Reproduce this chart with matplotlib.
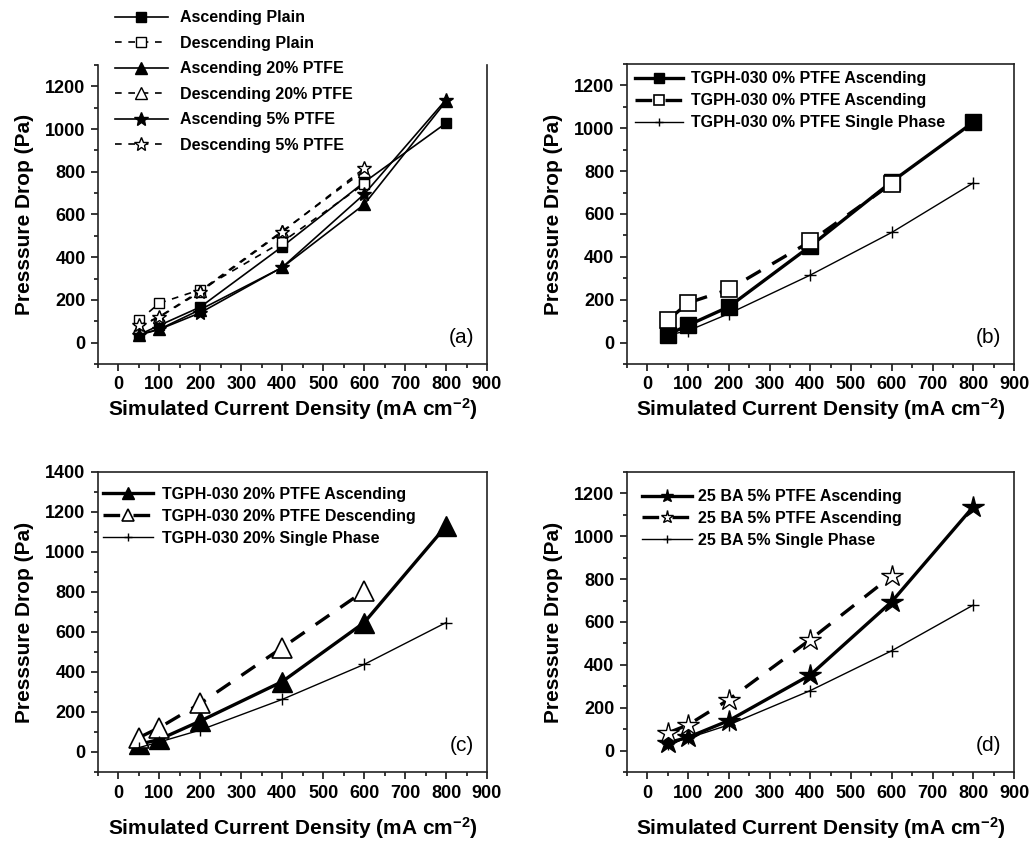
import matplotlib
matplotlib.use('Agg')
import matplotlib.pyplot as plt
from matplotlib.ticker import MultipleLocator

plt.rcParams['font.family'] = ['Liberation Sans', 'DejaVu Sans']
plt.rcParams['font.weight'] = 'bold'
plt.rcParams['mathtext.fontset'] = 'custom'
plt.rcParams['mathtext.rm'] = 'Liberation Sans:bold'
plt.rcParams['mathtext.it'] = 'Liberation Sans:bold'

# current density (mA cm-2)
x_all = [50, 100, 200, 400, 600, 800]
x_desc = [50, 100, 200, 400, 600]

# TGPH-030 0% PTFE (plain)
plain_asc = [37, 81, 167, 450, 751, 1028]
plain_desc = [104, 185, 248, 472, 742]
plain_single = [35, 55, 135, 315, 514, 745]

# TGPH-030 20% PTFE
ptfe20_asc = [38, 63, 155, 352, 647, 1130]
ptfe20_desc = [72, 122, 243, 522, 805]
ptfe20_single = [22, 50, 110, 263, 438, 647]

# 25 BA 5% PTFE
ptfe5_asc = [36, 62, 140, 353, 695, 1138]
ptfe5_desc = [82, 120, 238, 518, 816]
ptfe5_single = [31, 58, 120, 280, 466, 679]

XLABEL = 'Simulated Current Density (mA cm$^{\\mathrm{-2}}$)'
YLABEL = 'Presssure Drop (Pa)'

fig = plt.figure(figsize=(10.34, 8.43), dpi=100)
W, H = 1034, 843


def make_axes(l, t, r, b):
    return fig.add_axes([l / W, 1 - b / H, (r - l) / W, (b - t) / H])


def style(ax, ylim, ymajor, letter, labelpad_x):
    ax.set_xlim(-50, 900)
    ax.set_ylim(*ylim)
    ax.xaxis.set_major_locator(MultipleLocator(100))
    ax.xaxis.set_minor_locator(MultipleLocator(50))
    ax.yaxis.set_major_locator(MultipleLocator(ymajor))
    ax.yaxis.set_minor_locator(MultipleLocator(ymajor / 2))
    ax.tick_params(which='both', direction='out', top=False, right=False, width=1.1)
    ax.tick_params(which='major', length=5, labelsize=13, pad=4)
    ax.tick_params(which='minor', length=3)
    for lbl in ax.get_xticklabels() + ax.get_yticklabels():
        lbl.set_fontweight('bold')
    for s in ax.spines.values():
        s.set_linewidth(1.2)
        s.set_color('#222222')
    ax.set_xlabel(XLABEL, fontsize=15, fontweight='bold', labelpad=labelpad_x)
    ax.set_ylabel(YLABEL, fontsize=15, fontweight='bold', labelpad=8)
    ax.text(0.935, 0.087, letter, transform=ax.transAxes, fontsize=15,
            fontweight='normal', ha='center', va='center')


leg_font = {'size': 11.5, 'weight': 'bold'}
dash = (0, (5, 4))

# (a) all conditions
ax = make_axes(98, 65, 487, 364)
ax.plot(x_all, plain_asc, '-', color='k', lw=1.2, marker='s', ms=7, label='Ascending Plain')
ax.plot(x_desc, plain_desc, linestyle=(0, (4, 4)), color='k', lw=1.2, marker='s', ms=7,
        mfc='white', label='Descending Plain')
ax.plot(x_all, ptfe20_asc, '-', color='k', lw=1.2, marker='^', ms=8, label='Ascending 20% PTFE')
ax.plot(x_desc, ptfe20_desc, linestyle=(0, (4, 4)), color='k', lw=1.2, marker='^', ms=8,
        mfc='white', label='Descending 20% PTFE')
ax.plot(x_all, ptfe5_asc, '-', color='k', lw=1.2, marker='*', ms=10, label='Ascending 5% PTFE')
ax.plot(x_desc, ptfe5_desc, linestyle=(0, (4, 4)), color='k', lw=1.2, marker='*', ms=10,
        mfc='white', label='Descending 5% PTFE')
style(ax, (-100, 1300), 200, '(a)', 2)
ax.spines['top'].set_visible(False)
ax.legend(loc='upper left', bbox_to_anchor=(0.044, 1.183), frameon=False, prop=leg_font,
          borderpad=0, borderaxespad=0, handlelength=3.3, handletextpad=0.75,
          labelspacing=0.66)

# (b) plain
ax = make_axes(627, 64, 1014, 364)
ax.plot(x_all, plain_asc, '-', color='k', lw=2.4, marker='s', ms=11,
        label='TGPH-030 0% PTFE Ascending')
ax.plot(x_desc, plain_desc, linestyle=dash, color='k', lw=2.4, marker='s', ms=11,
        mfc='white', mew=1.2, label='TGPH-030 0% PTFE Ascending')
ax.plot(x_all, plain_single, '-', color='k', lw=1.0, marker='+', ms=9, mew=1.0,
        label='TGPH-030 0% PTFE Single Phase')
style(ax, (-100, 1300), 200, '(b)', 2)
ax.legend(loc='upper left', bbox_to_anchor=(0.021, 0.975), frameon=False, prop=leg_font,
          borderpad=0, borderaxespad=0, handlelength=3.0, handletextpad=0.5,
          labelspacing=0.43, markerscale=0.7)

# (c) 20% PTFE
ax = make_axes(98, 472, 487, 772)
ax.plot(x_all, ptfe20_asc, '-', color='k', lw=2.4, marker='^', ms=14,
        label='TGPH-030 20% PTFE Ascending')
ax.plot(x_desc, ptfe20_desc, linestyle=dash, color='k', lw=2.4, marker='^', ms=14,
        mfc='white', mew=1.2, label='TGPH-030 20% PTFE Descending')
ax.plot(x_all, ptfe20_single, '-', color='k', lw=1.0, marker='+', ms=9, mew=1.0,
        label='TGPH-030 20% Single Phase')
style(ax, (-100, 1400), 200, '(c)', 10)
ax.legend(loc='upper left', bbox_to_anchor=(0.013, 0.95), frameon=False, prop=leg_font,
          borderpad=0, borderaxespad=0, handlelength=3.1, handletextpad=0.6,
          labelspacing=0.43, markerscale=0.6)

# (d) 5% PTFE
ax = make_axes(627, 472, 1014, 772)
ax.plot(x_all, ptfe5_asc, '-', color='k', lw=2.4, marker='*', ms=16,
        label='25 BA 5% PTFE Ascending')
ax.plot(x_desc, ptfe5_desc, linestyle=dash, color='k', lw=2.4, marker='*', ms=16,
        mfc='white', mew=1.0, label='25 BA 5% PTFE Ascending')
ax.plot(x_all, ptfe5_single, '-', color='k', lw=1.0, marker='+', ms=9, mew=1.0,
        label='25 BA 5% Single Phase')
style(ax, (-100, 1300), 200, '(d)', 10)
ax.legend(loc='upper left', bbox_to_anchor=(0.039, 0.943), frameon=False, prop=leg_font,
          borderpad=0, borderaxespad=0, handlelength=3.1, handletextpad=0.4,
          labelspacing=0.43, markerscale=0.6)

fig.savefig('out.png', dpi=100, facecolor='white')
